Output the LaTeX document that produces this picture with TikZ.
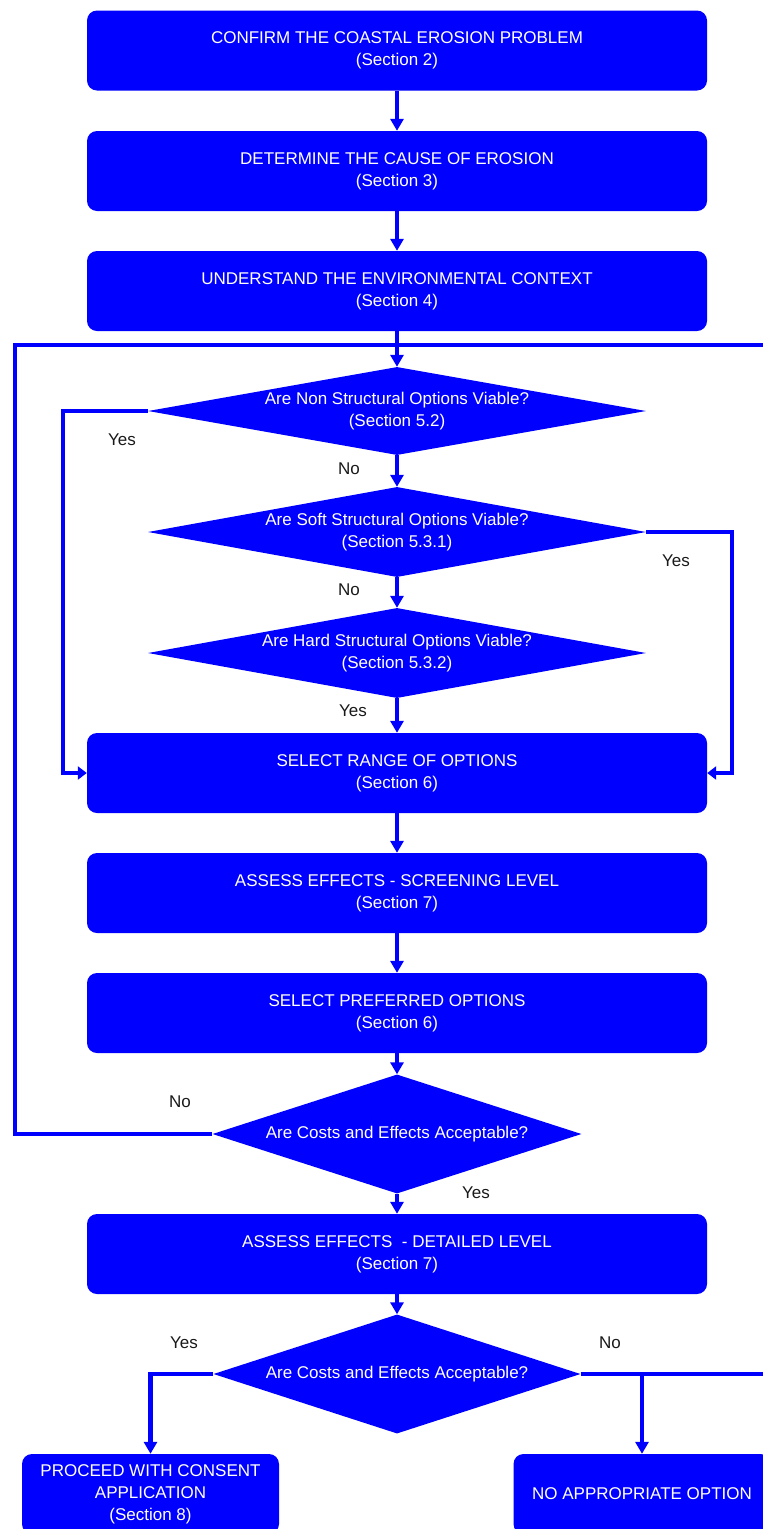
\documentclass[tikz,border=0pt]{standalone}
\usepackage{fontspec}
\setmainfont{Liberation Sans}
\usetikzlibrary{shapes.geometric,arrows.meta}
\definecolor{flowblue}{RGB}{0,0,255}
\def\flowfont{\fontsize{17}{22}\selectfont}

\begin{document}
\begin{tikzpicture}[x=1pt,y=-1pt,>={Triangle[length=12pt,width=13pt]}]
	\tikzstyle{stage}=[rectangle,rounded corners=10pt,fill=flowblue,text=white,align=center,font=\flowfont,minimum width=620pt,minimum height=80pt,inner sep=0pt]
	\tikzstyle{small stage}=[stage,minimum width=257pt]
	\tikzstyle{decision}=[diamond,fill=flowblue,inner sep=0pt,minimum width=498pt,minimum height=88pt]
	\tikzstyle{question}=[text=white,align=center,font=\flowfont]
	\tikzstyle{answer}=[text=black!90,font=\flowfont]
	\tikzstyle{flow}=[->,draw=flowblue,line width=4.5pt]
	\tikzstyle{branch}=[->,draw=flowblue,line width=3.5pt,>={Triangle[length=9pt,width=13pt]}]
	\tikzstyle{loop}=[draw=flowblue,line width=4pt]

	\useasboundingbox (0,0) rectangle (763,1529);

	% Draw the first three steps
	\node[stage] (S-1) at (397,50.5) {CONFIRM THE COASTAL EROSION PROBLEM\\(Section 2)};
	\node[stage] (S-2) at (397,171) {DETERMINE THE CAUSE OF EROSION\\(Section 3)};
	\node[stage] (S-3) at (397,291) {UNDERSTAND THE ENVIRONMENTAL CONTEXT\\(Section 4)};

	% Draw the option questions
	\node[decision,label={[question]center:Are Non Structural Options Viable?\\(Section 5.2)}] (D-1) at (397,411) {};
	\node[decision,minimum height=90pt,label={[question]center:Are Soft Structural Options Viable?\\(Section 5.3.1)}] (D-2) at (397,532) {};
	\node[decision,minimum height=90pt,label={[question]center:Are Hard Structural Options Viable?\\(Section 5.3.2)}] (D-3) at (397,653) {};

	% Draw the screening steps
	\node[stage] (S-4) at (397,773) {SELECT RANGE OF OPTIONS\\(Section 6)};
	\node[stage] (S-5) at (397,893) {ASSESS EFFECTS - SCREENING LEVEL\\(Section 7)};
	\node[stage] (S-6) at (397,1013) {SELECT PREFERRED OPTIONS\\(Section 6)};
	\node[decision,minimum width=369pt,minimum height=119pt,label={[question]center:Are Costs and Effects Acceptable?}] (D-4) at (397,1134) {};

	% Draw the detailed steps and the outcomes
	\node[stage] (S-7) at (397,1254) {ASSESS EFFECTS~ - DETAILED LEVEL\\(Section 7)};
	\node[decision,minimum width=367pt,minimum height=119pt,label={[question]center:Are Costs and Effects Acceptable?}] (D-5) at (397,1374) {};
	\node[small stage] (proceed) at (150.5,1494) {PROCEED WITH CONSENT\\APPLICATION\\(Section 8)};
	\node[small stage] (none) at (642,1494) {NO APPROPRIATE OPTION};

	% Corners of the connectors
	\coordinate (yes-L) at (63,411);
	\coordinate (yes-R) at (732,532);
	\coordinate (loop-1) at (15,1134);
	\coordinate (loop-2) at (15,345);
	\coordinate (loop-3) at (763,345);
	\coordinate (exit-R) at (763,1374);
	\coordinate (split) at (642,1374);

	% Connect the steps
	\draw[flow] (S-1) -- (S-2);
	\draw[flow] (S-2) -- (S-3);
	\draw[flow] (S-3) -- (D-1.north);
	\draw[flow] (D-1.south) -- (D-2.north);
	\draw[flow] (D-2.south) -- (D-3.north);
	\draw[flow] (D-3.south) -- (S-4.north);
	\draw[branch] (D-1.west) -- (yes-L) |- (S-4.west);
	\draw[branch] (D-2.east) -- (yes-R) |- (S-4.east);
	\draw[flow] (S-4) -- (S-5);
	\draw[flow] (S-5) -- (S-6);
	\draw[flow] (S-6) -- (D-4.north);
	\draw[loop] (D-4.west) -- (loop-1) -- (loop-2) -- (loop-3);
	\draw[flow] (D-4.south) -- (S-7.north);
	\draw[flow] (S-7) -- (D-5.north);
	\draw[flow] (D-5.west) -| (proceed.north);
	\draw[loop] (D-5.east) -- (exit-R);
	\draw[flow] (split) -- (none.north);

	% Annotate the answers
	\node[answer] (a-1) at (122,440) {Yes};
	\node[answer] (a-2) at (349,469) {No};
	\node[answer] (a-3) at (676,561) {Yes};
	\node[answer] (a-4) at (349,590) {No};
	\node[answer] (a-5) at (353,711) {Yes};
	\node[answer] (a-6) at (180,1102) {No};
	\node[answer] (a-7) at (476,1193) {Yes};
	\node[answer] (a-8) at (184,1343) {Yes};
	\node[answer] (a-9) at (610,1343) {No};
\end{tikzpicture}
\end{document}
